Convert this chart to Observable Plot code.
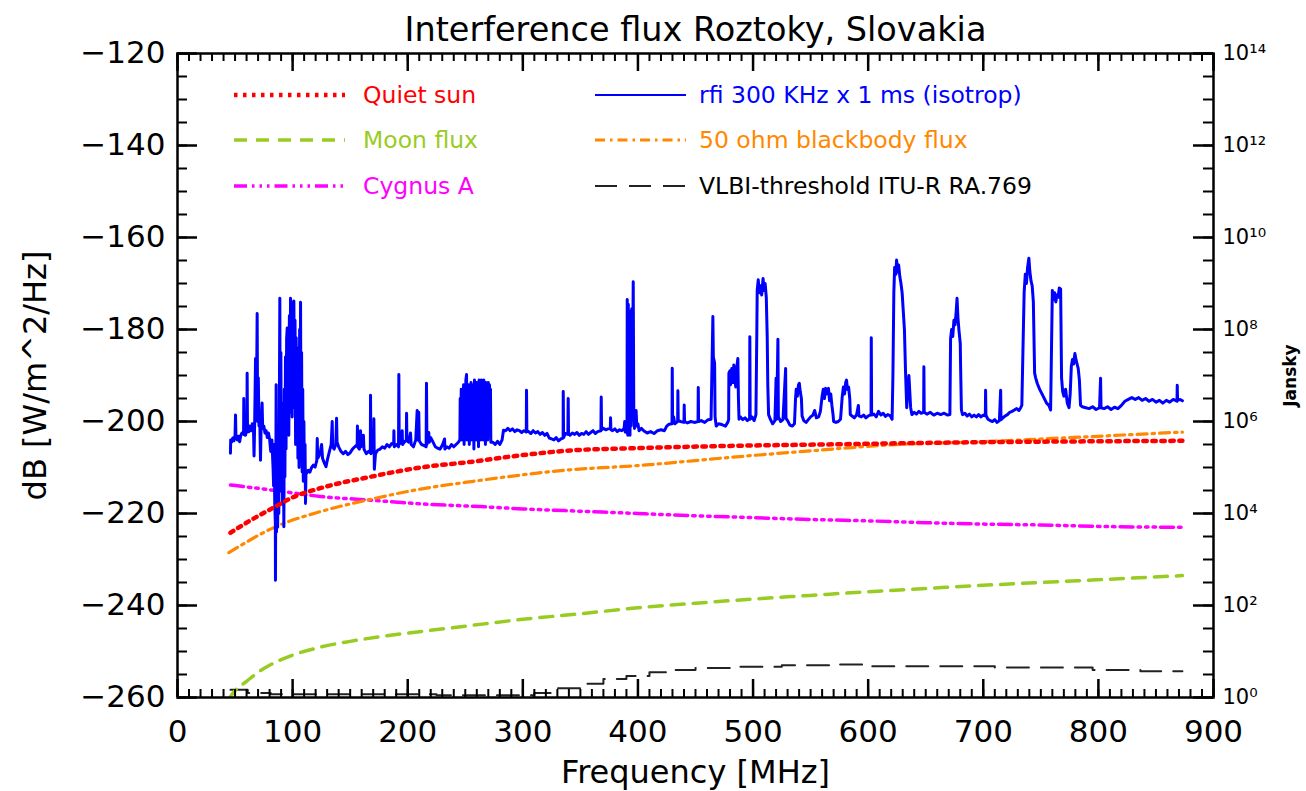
<!DOCTYPE html>
<html><head><meta charset="utf-8">
<script src="https://cdn.jsdelivr.net/npm/d3@7"></script>
<script src="https://cdn.jsdelivr.net/npm/@observablehq/plot@0.6"></script>
<style>body{margin:0;background:#fff;} #chart{width:1306px;height:791px;}</style>
</head><body><div id="chart"></div>
<script>
// ---- data (frequency MHz, dB W/m^2/Hz) ----
const xTicks = [0,100,200,300,400,500,600,700,800,900];
const yTicks = [-260,-240,-220,-200,-180,-160,-140,-120];
const title = "Interference flux Roztoky, Slovakia";
const seriesNames = ["Quiet sun","Moon flux","Cygnus A","rfi 300 KHz x 1 ms (isotrop)","50 ohm blackbody flux","VLBI-threshold ITU-R RA.769"];

const quietSun = [[46,-224.2],[60,-222],[85,-218.5],[100,-216.5],[124,-214.5],[168,-212],[211,-210],[254,-208.8],[300,-207.3],[341,-206.3],[399,-205.8],[480,-205.3],[560,-205],[698,-204.5],[800,-204.3],[873,-204.2]];
const moonFlux = [[44,-260.5],[50,-258.5],[60,-256.5],[70,-254.5],[80,-253],[100,-250.8],[125,-249],[150,-247.8],[175,-246.8],[200,-246],[250,-244.5],[300,-243],[350,-241.8],[400,-240.5],[450,-239.5],[500,-238.6],[550,-237.8],[600,-237],[650,-236.3],[700,-235.6],[750,-235],[800,-234.4],[873,-233.5]];
const cygnusA = [[46,-213.8],[85,-215],[124,-216.3],[168,-217.1],[211,-217.9],[263,-218.5],[300,-219],[350,-219.5],[400,-220],[450,-220.5],[500,-220.9],[550,-221.3],[600,-221.6],[650,-222],[700,-222.3],[750,-222.5],[800,-222.8],[873,-223.0]];
const blackbody = [[44.6,-228.5],[85,-222.9],[124,-219.6],[168,-216.9],[211,-214.7],[257,-213.0],[341,-210.5],[399,-209.6],[480,-207.8],[559,-206.2],[617,-205.1],[698,-204.4],[767,-203.6],[873,-202.3]];
const vlbi = [[46,-258.3],[60,-258.3],[62,-259.0],[80,-259.0],[82,-259.3],[150,-259.3],[300,-259.5],[320,-259],[340,-258],[360,-257],[380,-256],[400,-255.3],[420,-254.5],[440,-254],[460,-253.6],[500,-253.3],[550,-253],[590,-252.8],[610,-253.2],[700,-253.2],[720,-253.5],[790,-253.5],[800,-254],[873,-254.3]];

const rfi = [
[46,-206.9],[46.2,-204.0],[47,-204.5],[48,-203.6],[49,-204.2],[50,-203.0],[50.4,-198.6],[50.8,-203.5],[52,-204.0],[53,-203.2],[54,-204.4],[55,-203.0],[56,-202.5],[57.4,-202.8],[57.6,-195.0],[57.9,-202.5],[59,-203.0],[60.3,-202.0],[60.5,-189.5],[60.8,-201.5],[62,-202.2],[63,-201.0],[64,-202.0],[65,-200.5],[66,-201.5],[66.5,-207.5],[67,-201.0],[67.8,-186.3],[68.5,-199.5],[69.2,-176.5],[69.6,-200.0],[70.2,-190.5],[70.8,-201.0],[71.5,-200.0],[72.1,-208.4],[72.6,-201.5],[73.5,-196.0],[74,-201.5],[75,-201.0],[76,-202.5],[77,-202.0],[78,-203.5],[79,-202.5],[80,-203.8],[81,-206.5],[82,-204.0],[83,-210.0],
[83.5,-214],[84,-205],[84.5,-218],[85,-222],[85.1,-234.5],[85.3,-221],[85.7,-192],[86,-224],[86.5,-204],[87,-223],[87.5,-201],[88,-220],[88.5,-196],[88.9,-173.2],[89.2,-205],[89.8,-185],[90.3,-215],[90.8,-199],[91.3,-218],[91.8,-196],[92.4,-222.9],[92.8,-193],[93.3,-212],[93.8,-186],[94.3,-206],[94.8,-182],[95.3,-179.7],[95.7,-200],[96.2,-181],[96.7,-203],[97.2,-177],[97.7,-198],[98.2,-173.2],[98.6,-196],[99.1,-176],[99.6,-199],[100.1,-174],[100.6,-194],[101.1,-173.8],[101.6,-197],[102.1,-178],[102.6,-205],[103.1,-181.8],[103.6,-201],[104.1,-184],[104.6,-208],[105.1,-186],[105.6,-210],[106.1,-180],[106.6,-203],[106.9,-174.1],[107.3,-206],[107.8,-185],[108.3,-211],[108.8,-193],[109.3,-213],[109.8,-200],[110.3,-212],[110.8,-205],[111.2,-217.8],[111.6,-211],
[112,-211.3],[113.5,-210.6],[115,-211.0],[116.5,-210.0],[118,-209.5],[119.5,-209.9],[121,-208.5],[121.4,-203.7],[121.8,-208.0],[123,-207.5],[124.3,-206.2],[125.2,-205.0],[126,-208.0],[127.5,-209.0],[129,-209.8],[130.5,-208.0],[132,-206.5],[133.5,-205.0],[134.4,-200.0],[134.8,-205.5],[136,-206.0],[137.5,-205.0],[138.2,-199.3],[138.6,-204.5],[140,-205.5],[142,-206.5],[144,-207.0],[146,-206.5],[148,-207.2],[150,-206.8],[152,-206.0],[154,-205.5],[156.1,-205.0],[156.3,-201.0],[156.6,-205.5],[158,-206.0],[159,-202.0],[159.4,-205.5],[161.5,-203.0],[162,-206.0],[164,-207.0],[166,-206.5],[167.5,-206.8],[167.7,-194.3],[168,-207.0],[170.3,-206.0],[170.6,-199.4],[171,-210.4],[172,-207.0],[174,-206.2],[176,-206.0],[178,-205.5],[180,-205.8],[182,-205.0],[184,-205.5],[186,-204.8],[187.8,-205.0],[188,-202.0],[188.3,-205.5],[190,-205.0],[192,-205.5],[192.3,-189.8],[192.6,-205.0],[194,-204.5],[195.2,-202.0],[195.5,-205.0],[197,-204.5],[198.8,-204.0],[199,-198.2],[199.3,-204.2],[201,-204.5],[202.4,-202.5],[203,-205.0],[205,-205.5],[207,-204.0],[208.2,-197.6],[208.6,-204.0],[209.6,-198.0],[210,-204.2],[212,-205.0],[214,-205.2],[216,-205.5],[216.3,-191.7],[216.7,-205.0],[218.3,-202.4],[218.7,-204.5],[220,-203.5],[222,-204.5],[224,-205.5],[226,-205.8],[228,-206.0],[230,-205.2],[232,-203.8],[232.3,-206.0],[234,-205.5],[236,-205.8],[238,-205.0],[240,-205.5],[242,-205.0],[244,-204.5],
[245.3,-204],[245.6,-195],[246,-203],[246.5,-193],[247,-204],[247.5,-197],[248,-202],[248.5,-192],[249,-205],[249.5,-196],[250,-203],[250.5,-191],[251.1,-189.8],[251.5,-204],[252,-194],[252.5,-203],[253,-192],[253.5,-205],[254,-193],[254.5,-202],[255,-191.5],[255.5,-204],[256,-192],[256.5,-203],[257,-193],[257.5,-206],[258,-191],[258.5,-202],[259,-192],[259.5,-204],[260,-191.5],[260.5,-203],[261,-192],[261.5,-205.5],[262,-191],[262.5,-203],[263,-192],[263.5,-204],[264,-191],[264.5,-202],[265,-191.5],[265.5,-204],[266.1,-191.0],[266.5,-203],[267,-192],[267.5,-205],[268,-191.5],[268.5,-203],[269,-192],[269.5,-204],[270,-191.5],[270.5,-203],[271,-192],[271.5,-203],[271.9,-193],[272.2,-204.5],
[274,-204.5],[276,-205.0],[278,-204.3],[280,-205.0],[282,-204.0],[283.2,-201.9],[285,-202.0],[287,-201.5],[289,-202.0],[291,-201.6],[293,-202.2],[295,-201.8],[297,-202.0],[299,-202.4],[301,-202.0],[303,-202.3],[303.2,-193.2],[303.5,-202.0],[305,-202.2],[307,-202.6],[309,-202.0],[311,-202.5],[313,-202.2],[315,-202.8],[317,-202.4],[319,-203.0],[321,-202.6],[323,-203.6],[325,-203.8],[327,-204.0],[329,-203.5],[331,-204.2],[333,-203.8],[335,-203.6],[335.1,-193.5],[335.4,-203.5],[337,-202.6],[339.1,-202.8],[339.4,-195.0],[339.7,-202.5],[341,-203.0],[343,-202.5],[345,-202.8],[347,-202.4],[349,-203.0],[351,-202.6],[353,-202.8],[355,-202.2],[357,-202.8],[359,-202.4],[361,-202.0],[363,-202.6],[365,-202.2],[367.8,-202.0],[368.1,-194.7],[368.4,-201.8],[370,-201.5],[372,-201.8],[374,-201.6],[376,-201.5],[376.2,-199.2],[376.5,-201.8],[378,-202.0],[380,-201.6],[382,-202.2],[384,-201.8],[386,-202.0],[388,-201.5],[388.5,-200.0],[389,-202.3],[390.3,-202.0],
[390.5,-202.5],[390.7,-173.5],[391.2,-203],[391.6,-174.5],[392.1,-202],[392.6,-176],[393.1,-203],[393.6,-178],[394.1,-201],[394.6,-175.5],[395.1,-197],[395.9,-169.6],[396.4,-197.5],[397,-201.5],[397.6,-200.5],[398.4,-197.6],[399,-201.0],[400,-200.5],[401,-202.0],[403,-201.5],
[405,-202.0],[408,-202.5],[411,-202.2],[414,-202.6],[417,-202.0],[420,-201.8],[423,-202.0],[425,-201.0],[427,-200.6],[429.6,-200.5],[429.8,-188.4],[430.1,-199.5],[431,-199.0],[432,-200.5],[434.5,-200.0],[434.7,-193.3],[435,-199.8],[437,-200.0],[440,-200.2],[440.2,-196.4],[440.5,-200.0],[443,-200.3],[446,-200.0],[449,-200.2],[452.2,-200.0],[452.4,-192.6],[452.7,-200.0],[455,-199.8],[458,-200.2],[461,-199.6],[463.5,-199.5],[464,-192.6],[465.1,-177.2],[465.5,-186.0],[466.6,-187.3],[467,-199.0],[468,-201.0],[470,-200.5],[472,-200.6],[474,-200.8],[476,-201.0],[478,-200.2],[478.8,-199.6],
[479,-189.5],[479.9,-189.0],[480.5,-192.0],[481.5,-188.5],[482.5,-191.5],[483.3,-187.7],[484,-190.5],[485,-192.5],[486,-188.0],[486.8,-186.3],[487.3,-195],[487.8,-199.5],[489,-199.0],[491,-199.6],[493,-199.2],[495,-199.8],[497,-199.4],[497.2,-181.6],[497.5,-199.5],[499,-199.0],[501,-199.8],[502.5,-198.5],
[503.3,-180],[503.6,-171.5],[504.5,-169.2],[505.5,-172.0],[506.5,-170.5],[507.5,-172.5],[508.7,-168.9],[509.5,-171.5],[510.5,-170.0],[511.5,-173.0],[512.3,-181.6],[512.8,-192.0],[513.5,-198.5],[515,-199.5],[517,-200.5],[519,-199.8],[520,-190.6],[520.5,-199.5],[521.6,-182.1],[522,-199.0],[524,-200.0],[526,-199.6],[528.3,-188.5],[528.6,-199.3],[530,-199.8],[532,-200.8],[534,-201.0],[536,-200.5],
[536.9,-195.0],[537.5,-193.0],[538.5,-194.5],[539.5,-192.0],[540.2,-191.7],[541,-193.5],[542,-195.0],[542.6,-198.8],[544,-199.8],[546,-200.2],[548,-199.6],[550,-199.0],[552,-198.6],[553.5,-197.6],[555,-199.2],[557,-199.0],[558.5,-197.8],
[560,-194.5],[561,-193.0],[562,-195.0],[563,-192.8],[564,-194.0],[565.5,-192.8],[566.5,-195.5],[567.5,-194.0],[568.5,-196.5],[569.5,-198.5],[570,-200.0],[572,-200.2],[574,-200.0],[576,-199.5],
[577.5,-194.5],[578.5,-192.5],[579.5,-194.0],[580.5,-191.5],[581.2,-191.0],[582,-193.0],[583,-192.5],[584,-195.0],[584.5,-198.5],[586,-198.8],[588,-199.2],[590,-198.5],[591.5,-196.5],[592,-198.8],[594,-199.0],[596,-198.6],[598,-199.2],[600,-198.8],[602.5,-198.5],[602.7,-181.8],[603,-198.6],[605,-198.4],[607,-199.0],[609,-197.8],[611,-198.6],[613,-198.2],[615,-198.9],[617,-198.5],[619,-198.7],[620.8,-199.5],
[621.5,-190],[622.3,-172],[623,-166.5],[624,-168],[624.7,-164.9],[625.5,-167.5],[626.5,-166.0],[627.5,-168.5],[628.5,-170.0],[629.5,-172.0],[630.5,-176.0],[631.5,-180.0],[632.5,-189.5],[633.5,-197],[634.5,-193],[635.4,-190],[636.9,-197],[638,-198.5],[640,-198.0],[642,-198.4],[644,-197.8],[646,-198.2],[648.2,-198.0],[648.4,-188.1],[648.7,-198.0],[651,-198.4],[654,-198.0],[657,-198.6],[660,-198.2],[663,-198.5],[666,-198.2],[669,-198.6],[671,-198.5],
[671.6,-182],[672.5,-180],[673.5,-181.5],[674.5,-178],[675.5,-179],[676.5,-176],[677.2,-173.2],[678,-177.5],[679,-180.5],[680,-183],[680.3,-188.0],[681,-197.5],[682,-198.5],[684,-198.2],[686,-198.8],[688,-198.4],[690,-199.0],[692,-198.6],[694,-199.0],[696,-198.5],[698,-199.0],[700,-198.6],[701.8,-198.8],[702,-193.2],[702.3,-198.6],[704,-199.5],[706,-199.8],[708,-200.0],[710,-199.6],[712,-200.2],[714,-199.8],[715.1,-193.2],[715.4,-199.6],[717,-199.2],[719,-198.8],[721,-198.5],[723,-198.0],[725,-197.8],[727,-197.5],[729,-197.2],[731,-197.6],[732.5,-197.0],
[733.5,-196.5],[734.7,-181.6],[735.5,-172],[736.5,-168],[737.5,-170],[738.5,-166.5],[739.6,-164.5],[740.5,-167.5],[741.5,-169.5],[742.5,-170.5],[743.5,-174],[744.6,-189.5],[745.5,-190.5],[747,-191.8],[749,-193.0],[751,-194.0],[753,-195.0],[755,-196.0],[757,-196.5],[758.5,-197.5],
[759.5,-180],[760,-171.5],[761,-173.5],[762,-172.0],[763,-174.0],[764,-172.5],[765,-173.0],[766,-171.0],[767.2,-171.2],[768,-190.5],[769,-193.5],[770,-194.5],[771.5,-193.0],[773,-196.0],[774.5,-197.0],
[775.5,-194],[776.5,-188],[777.5,-186.5],[778.5,-187.5],[779.6,-185.2],[780.5,-186.5],[781.5,-187.5],[782.5,-188.5],[783.5,-191],[784.5,-196.5],[786,-196.8],[789,-197.0],[792,-197.2],[795,-196.8],[798,-197.4],[801,-197.0],[801.9,-190.6],[802.3,-197.0],[805,-197.2],[808,-196.8],[811,-197.4],[814,-196.9],[817,-197.2],[820,-196.5],[823,-195.6],[826,-195.2],[829,-194.8],[832,-195.2],[835,-194.8],[838,-195.4],[841,-195.0],[844,-195.6],[847,-195.2],[850,-195.8],[853,-195.4],[856,-196.0],[859,-195.4],[862,-195.8],[865,-195.2],[868.3,-195.6],[868.5,-192.1],[868.8,-195.4],[871,-195.2],[873,-195.5]
];

// ---- styles ----
const colors = ["#ff0000","#99cc22","#ff00ff","#0000ff","#ff8800","#222222"];
const dashes = ["3.5,5.5","13,9","13,5,2.5,5,2.5,5,2.5,5","","10,5,2.5,5","22,12"];
const widths = [4.5,3.5,3.5,2,3.2,2];

const W = 1306, H = 791, mL = 177, mR = 93, mT = 53, mB = 94;
const fw = W - mL - mR, fh = H - mT - mB;
const xMinor = d3.range(0, 901, 10);
const yMinor = d3.range(-260, -119, 5);
const sup = n => String(n).split("").map(c => "⁰¹²³⁴⁵⁶⁷⁸⁹"[+c]).join("");
const X = d => d[0], Y = d => d[1];

const lineOpts = (i, extra = {}) => ({x: X, y: Y, stroke: colors[i], strokeWidth: widths[i],
  strokeDasharray: dashes[i] || null, curve: "monotone-x", clip: true, ...extra});

const chart = Plot.plot({
  width: W, height: H, marginLeft: mL, marginRight: mR, marginTop: mT, marginBottom: mB,
  x: {domain: [0, 900]}, y: {domain: [-260, -120]},
  style: {fontFamily: "DejaVu Sans", background: "white", color: "black", overflow: "visible"},
  marks: [
    Plot.line(vlbi, lineOpts(5, {curve: "step"})),
    Plot.line(moonFlux, lineOpts(1)),
    Plot.line(cygnusA, lineOpts(2)),
    Plot.line(blackbody, lineOpts(4)),
    Plot.line(rfi, {x: X, y: Y, stroke: colors[3], strokeWidth: 3, strokeLinejoin: "round", clip: true}),
    Plot.line(quietSun, lineOpts(0)),
    // ticks (inward, on all four sides)
    Plot.tickY(yMinor, {insetRight: fw - 10, strokeWidth: 2}),
    Plot.tickY(yTicks, {insetRight: fw - 20, strokeWidth: 2.5}),
    Plot.tickY(yMinor, {insetLeft: fw - 10, strokeWidth: 2}),
    Plot.tickY(yTicks, {insetLeft: fw - 20, strokeWidth: 2.5}),
    Plot.tickX(xMinor, {insetTop: fh - 8, strokeWidth: 2}),
    Plot.tickX(xTicks, {insetTop: fh - 18, strokeWidth: 2.5}),
    Plot.tickX(xMinor, {insetBottom: fh - 8, strokeWidth: 2}),
    Plot.tickX(xTicks, {insetBottom: fh - 18, strokeWidth: 2.5}),
    Plot.frame({stroke: "black", strokeWidth: 2.5}),
    Plot.axisX({ticks: xTicks, tickSize: 0, tickPadding: 22, fontSize: 31, label: null, tickFormat: d => String(d)}),
    Plot.axisY({ticks: yTicks, tickSize: 0, tickPadding: 12, fontSize: 31, label: null}),
    Plot.axisY({anchor: "right", ticks: yTicks, tickSize: 0, tickPadding: 9, fontSize: 21, label: null,
      tickFormat: d => "10" + sup((d + 260) / 10)}),
    Plot.text([title], {frameAnchor: "top", dy: -23, lineAnchor: "middle", fontSize: 33.5}),
    Plot.text(["Frequency [MHz]"], {frameAnchor: "bottom", dy: 75, lineAnchor: "middle", fontSize: 32}),
    Plot.text(["dB [W/m^2/Hz]"], {frameAnchor: "left", dx: -142, rotate: -90, textAnchor: "middle", lineAnchor: "middle", fontSize: 32}),
    Plot.text(["Jansky"], {frameAnchor: "right", dx: 77, rotate: -90, textAnchor: "middle", lineAnchor: "middle", fontSize: 17, fontWeight: "bold"})
  ]
});
document.getElementById("chart").appendChild(chart);

// ---- legend inside the frame ----
const svg = d3.select(chart);
const lg = svg.append("g").attr("font-family", "DejaVu Sans").attr("font-size", 23.5).attr("text-anchor", "start");
const rows = [95, 140, 186];
const cols = [{x1: 234, x2: 345, tx: 363}, {x1: 595, x2: 686, tx: 699}];
seriesNames.forEach((name, i) => {
  const c = cols[Math.floor(i / 3)], y = rows[i % 3];
  lg.append("line").attr("x1", c.x1).attr("x2", c.x2).attr("y1", y).attr("y2", y)
    .attr("stroke", colors[i]).attr("stroke-width", widths[i])
    .attr("stroke-dasharray", dashes[i] || null);
  lg.append("text").attr("x", c.tx).attr("y", y).attr("dy", "0.35em").attr("text-anchor", "start")
    .attr("fill", i === 5 ? "#000" : colors[i]).text(name);
});
</script></body></html>
